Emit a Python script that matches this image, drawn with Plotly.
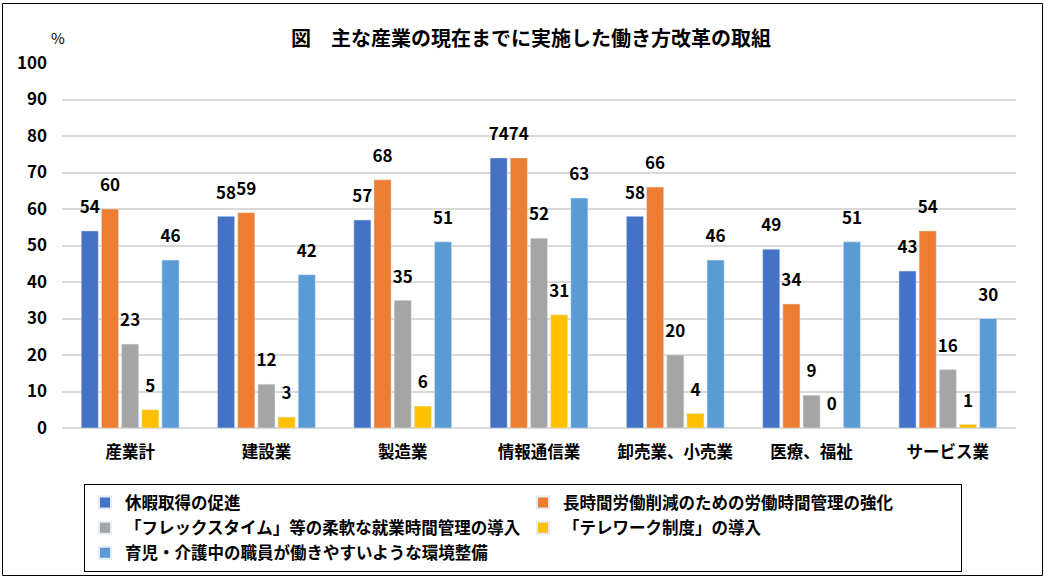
import plotly.graph_objects as go

categories = ["産業計", "建設業", "製造業", "情報通信業", "卸売業、小売業", "医療、福祉", "サービス業"]
series_names = [
    "休暇取得の促進",
    "長時間労働削減のための労働時間管理の強化",
    "「フレックスタイム」等の柔軟な就業時間管理の導入",
    "「テレワーク制度」の導入",
    "育児・介護中の職員が働きやすいような環境整備",
]
vacation = [54, 58, 57, 74, 58, 49, 43]
long_hours = [60, 59, 68, 74, 66, 34, 54]
flextime = [23, 12, 35, 52, 20, 9, 16]
telework = [5, 3, 6, 31, 4, 0, 1]
childcare = [46, 42, 51, 63, 46, 51, 30]
colors = ["#4472C4", "#ED7D31", "#A5A5A5", "#FFC000", "#5B9BD5"]
y_ticks = list(range(0, 101, 10))

FONT = "Noto Sans CJK JP"
W, H = 1045, 578
L, R, T, B = 62, 29, 63, 150
pw, ph = W - L - R, H - T - B

fig = go.Figure()
for name, vals, col in zip(series_names, [vacation, long_hours, flextime, telework, childcare], colors):
    fig.add_trace(go.Bar(
        name=f'<span style="font-size:16.5px">{name}</span>',
        x=categories, y=vals, marker_color=col,
        text=[f'<span style="font-size:17px"><b>{v}</b></span><br> ' for v in vals],
        textposition="outside", constraintext="none", cliponaxis=False,
        textfont=dict(family=FONT, size=9, color="#000000"),
    ))

def px(x):
    return (x - L) / pw

def py(y):
    return (H - B - y) / ph

fig.update_layout(
    width=W, height=H,
    margin=dict(l=L, r=R, t=T, b=B, autoexpand=False),
    paper_bgcolor="white", plot_bgcolor="white",
    barmode="group", bargap=0.26, bargroupgap=0.15,
    font=dict(family=FONT, color="#000000"),
    showlegend=True,
    legend=dict(
        orientation="h", x=px(84), xanchor="left", y=py(484), yanchor="top",
        entrywidth=393, entrywidthmode="pixels",
        bordercolor="#000000", borderwidth=1, bgcolor="white",
        font=dict(family=FONT, size=17, color="#000000", weight="bold"),
        itemsizing="constant",
    ),
    xaxis=dict(
        showgrid=False, showline=False, ticks="",
        tickfont=dict(family=FONT, size=16.5, color="#000000", weight="bold"),
        ticklabelstandoff=12,
    ),
    yaxis=dict(
        range=[0, 100], tickvals=y_ticks, showgrid=True, gridcolor="#D9D9D9", gridwidth=1.5,
        zeroline=True, zerolinecolor="#D9D9D9", zerolinewidth=1.5, ticks="",
        tickfont=dict(family=FONT, size=17, color="#000000", weight="bold"),
        ticklabelstandoff=14,
    ),
    annotations=[
        dict(text="<b>図　主な産業の現在までに実施した働き方改革の取組</b>", x=px(531), y=py(37),
             xref="paper", yref="paper", xanchor="center", yanchor="middle", showarrow=False,
             font=dict(family=FONT, size=20, color="#000000")),
        dict(text="%", x=px(58), y=py(37), xref="paper", yref="paper",
             xanchor="center", yanchor="middle", showarrow=False,
             font=dict(family=FONT, size=15, color="#000000")),
    ],
    shapes=[
        dict(type="rect", xref="paper", yref="paper",
             x0=px(2.5), x1=px(1042.5), y0=py(575.5), y1=py(3.5),
             line=dict(color="#000000", width=1), fillcolor="rgba(0,0,0,0)", layer="below"),
    ],
)

fig.write_html("out.html", config={"displayModeBar": False},
               post_script="document.body.style.margin='0';document.body.style.overflow='hidden';")
